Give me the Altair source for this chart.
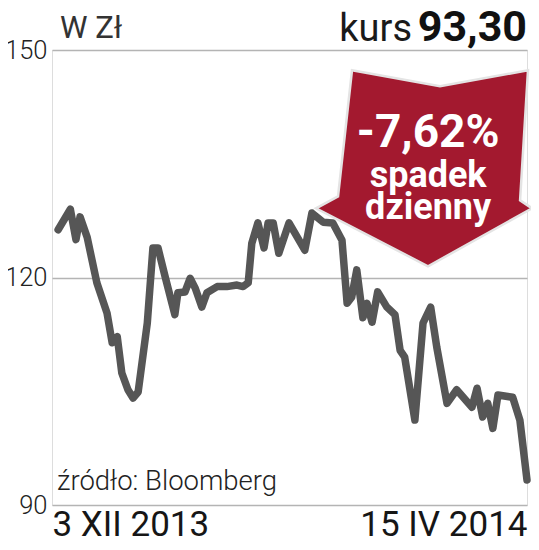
import altair as alt
import pandas as pd

# trading-day position (from 3 XII 2013) and closing price in zł
days = [0.0, 2.4, 3.5, 4.3, 5.7, 7.6, 9.6, 10.6, 11.6, 12.5, 13.7, 14.7, 15.7, 17.5,
        18.6, 19.6, 21.0, 22.9, 23.5, 24.9, 25.9, 26.9, 28.2, 29.2, 31.2, 33.1, 35.1,
        36.3, 37.3, 38.0, 39.2, 40.4, 41.2, 42.2, 43.3, 45.3, 48.4, 49.8, 52.0, 53.9,
        55.7, 56.7, 57.6, 58.6, 59.8, 60.6, 61.6, 62.7, 64.5, 66.1, 67.1, 68.0, 70.0,
        71.6, 73.1, 74.3, 76.3, 78.2, 81.2, 82.2, 83.3, 84.3, 85.3, 86.3, 89.2, 90.6, 92.0]
prices = [126.3, 129.0, 125.0, 128.0, 125.3, 119.3, 115.3, 111.4, 112.2, 107.4, 105.2,
          104.1, 104.9, 114.0, 123.9, 123.9, 120.1, 115.1, 118.0, 118.1, 119.9, 118.6,
          116.1, 118.0, 118.8, 118.8, 119.0, 118.8, 119.3, 124.5, 127.2, 123.9, 127.2,
          127.2, 123.2, 127.2, 123.6, 128.5, 127.3, 127.2, 124.9, 116.6, 117.4, 121.0,
          114.7, 116.6, 114.1, 118.1, 116.1, 115.1, 110.4, 109.5, 101.2, 114.0, 116.1,
          110.8, 103.4, 105.2, 102.9, 105.4, 101.6, 103.4, 100.1, 104.5, 104.2, 101.2, 93.3]

y_ticks = [90, 120, 150]
x_ticks = [-1.2, 92.0]
x_labels = ["3 XII 2013", "15 IV 2014"]

badge_lines = ["-7,62%", "spadek", "dzienny"]
badge_line_day = [72.6, 72.6, 72.6]
badge_line_val = [137.2, 131.9, 127.7]
badge_line_size = [46, 36, 36]
badge_anchor_day = [71.8]
badge_anchor_val = [134.4]

FONT = "Roboto, 'Noto Sans', sans-serif"

df = pd.DataFrame({"day": days, "price": prices})

xs = alt.Scale(domain=[x_ticks[0], x_ticks[1]], nice=False, zero=False)
ys = alt.Scale(domain=[90, 150], nice=False, zero=False)

label_expr = "datum.value < 50 ? '%s' : '%s'" % (x_labels[0], x_labels[1])

line = alt.Chart(df).mark_line(
    color="#565656", strokeWidth=7.5, strokeCap="round", strokeJoin="round"
).encode(
    x=alt.X("day:Q", scale=xs, axis=alt.Axis(
        values=x_ticks, labelExpr=label_expr, labelFlush=True, title=None,
        domain=False, ticks=False, grid=False, labelFontSize=35,
        labelFont=FONT, labelColor="#161616", labelPadding=2)),
    y=alt.Y("price:Q", scale=ys, axis=alt.Axis(
        values=y_ticks, title=None, domain=False, ticks=False, grid=True,
        gridColor="#b4b4b4", gridWidth=1.6, labelFontSize=25.5, labelFont=FONT,
        labelFontWeight=300, labelColor="#222222", labelPadding=5)),
)

# arrow badge shape (unit path, scaled by size)
arrow_path = ("M-0.655,-0.891 L0.145,-0.745 L0.945,-0.891 L0.873,0.291 "
              "L0.982,0.364 L0.036,0.891 L-0.982,0.364 L-0.782,0.255 Z")
badge_df = pd.DataFrame({"day": badge_anchor_day, "price": badge_anchor_val})
badge = alt.Chart(badge_df).mark_point(
    shape=arrow_path, size=48400, filled=True, fill="#a3192f", fillOpacity=1,
    stroke="#e4e4e4", strokeWidth=2.5, opacity=1
).encode(x=alt.X("day:Q", scale=xs), y=alt.Y("price:Q", scale=ys))

bt_df = pd.DataFrame({"day": badge_line_day, "price": badge_line_val,
                      "txt": badge_lines, "fs": badge_line_size})
badge_text = alt.Chart(bt_df).mark_text(
    font=FONT, fontWeight="bold", color="white", align="center", baseline="alphabetic"
).encode(
    x=alt.X("day:Q", scale=xs), y=alt.Y("price:Q", scale=ys), text="txt:N",
    size=alt.Size("fs:Q", scale=None, legend=None),
)

unit = alt.Chart(pd.DataFrame({"a": [0]}))
t_unit = unit.mark_text(text="W Zł", font=FONT, fontSize=31, color="#333333",
                        align="left", baseline="alphabetic").encode(
    x=alt.value(8), y=alt.value(-12))
t_kurs = unit.mark_text(text="kurs", font=FONT, fontSize=38, color="#1a1a1a",
                        align="right", baseline="alphabetic").encode(
    x=alt.value(360), y=alt.value(-9))
t_val = unit.mark_text(text="93,30", font=FONT, fontSize=43, fontWeight="bold",
                       color="#111111", align="right", baseline="alphabetic").encode(
    x=alt.value(475), y=alt.value(-9))
t_src = unit.mark_text(text="źródło: Bloomberg", font=FONT, fontSize=27.5,
                       fontWeight=300, color="#222222", align="left",
                       baseline="alphabetic").encode(
    x=alt.value(5), y=alt.value(440))

chart = alt.layer(line, badge, badge_text, t_unit, t_kurs, t_val, t_src).properties(
    width=475, height=455,
    autosize=alt.AutoSizeParams(type="none"),
    padding={"left": 44, "top": 42, "right": 4, "bottom": 38},
).configure_view(stroke=None).configure(background="white")

chart.save("out.html", embed_options={"renderer": "svg", "actions": False})
